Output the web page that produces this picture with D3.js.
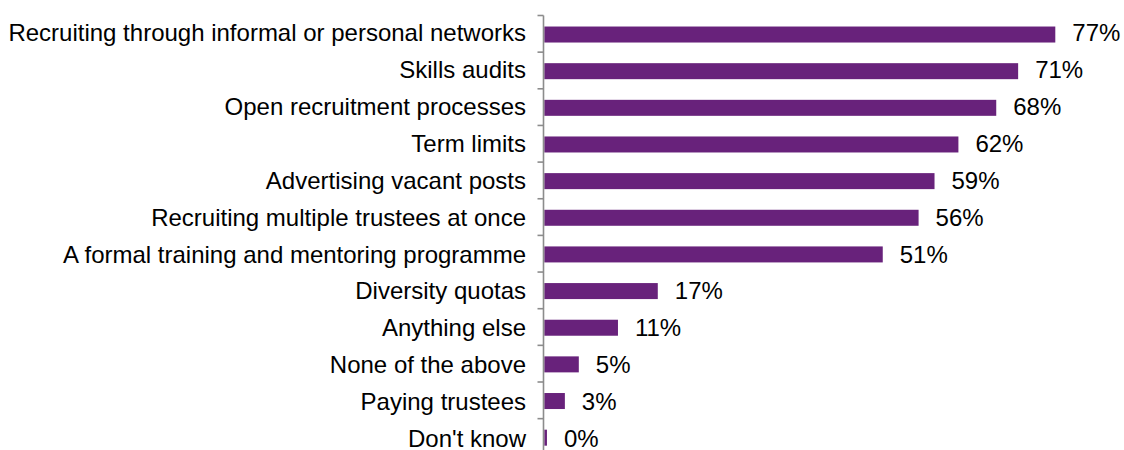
<!DOCTYPE html>
<html>
<head>
<meta charset="utf-8">
<script src="https://cdn.jsdelivr.net/npm/d3@7"></script>
<style>
  html, body { margin: 0; padding: 0; background: #fff; }
  svg { display: block; }
  text { font-family: "Liberation Sans", Arial, sans-serif; fill: #000; }
</style>
</head>
<body>
<svg id="chart" width="1124" height="450"></svg>
<script>
const categories = [
  "Recruiting through informal or personal networks",
  "Skills audits",
  "Open recruitment processes",
  "Term limits",
  "Advertising vacant posts",
  "Recruiting multiple trustees at once",
  "A formal training and mentoring programme",
  "Diversity quotas",
  "Anything else",
  "None of the above",
  "Paying trustees",
  "Don't know"
];
const values = [77.0, 71.4, 68.1, 62.4, 58.8, 56.4, 51.0, 17.1, 11.1, 5.2, 3.1, 0.4];
const valueLabels = ["77%", "71%", "68%", "62%", "59%", "56%", "51%", "17%", "11%", "5%", "3%", "0%"];

const svg = d3.select("#chart");
const axisX = 543.5;
const x = d3.scaleLinear().domain([0, 77]).range([axisX + 0.8, 1055.3]);
const y = d3.scaleBand().domain(categories).range([15.5, 15.5 + 12 * 36.65]).padding(0);
const barH = 16;
const fs = 24;

// bars
svg.selectAll("rect.bar")
  .data(categories)
  .join("rect")
  .attr("class", "bar")
  .attr("x", x(0))
  .attr("y", d => y(d) + (y.bandwidth() - barH) / 2 + 0.7)
  .attr("width", (d, i) => Math.max(0, x(values[i]) - x(0)))
  .attr("height", barH)
  .attr("fill", "#68227B");

// axis line + ticks at band boundaries
const axisG = svg.append("g");
axisG.append("line")
  .attr("x1", axisX).attr("x2", axisX)
  .attr("y1", y.range()[0]).attr("y2", y.range()[1])
  .attr("stroke", "#8c8c8c").attr("stroke-width", 1.6);
const bounds = categories.map(d => y(d)).concat([y.range()[1]]);
axisG.selectAll("line.tick")
  .data(bounds)
  .join("line")
  .attr("class", "tick")
  .attr("x1", axisX - 6).attr("x2", axisX)
  .attr("y1", d => d).attr("y2", d => d)
  .attr("stroke", "#8c8c8c").attr("stroke-width", 1.6);

// category labels
svg.selectAll("text.cat")
  .data(categories)
  .join("text")
  .attr("class", "cat")
  .attr("x", 526)
  .attr("y", (d, i) => y(d) + y.bandwidth() / 2 + 7.3 + i * 0.25)
  .attr("text-anchor", "end")
  .style("font-size", fs + "px")
  .text(d => d);

// value labels
svg.selectAll("text.val")
  .data(categories)
  .join("text")
  .attr("class", "val")
  .attr("x", (d, i) => x(values[i]) + 17)
  .attr("y", (d, i) => y(d) + y.bandwidth() / 2 + 7.3 + i * 0.25)
  .style("font-size", fs + "px")
  .text((d, i) => valueLabels[i]);
</script>
</body>
</html>
